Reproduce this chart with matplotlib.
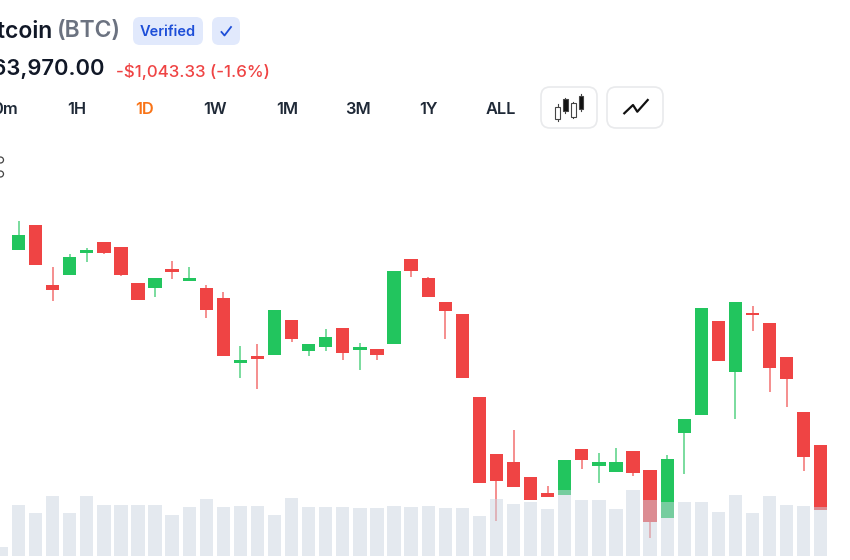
import numpy as np
from matplotlib import pyplot as plt
from matplotlib.patches import FancyBboxPatch, Rectangle, Circle

plt.rcParams['font.family'] = ['Inter', 'DejaVu Sans']

# daily candles (USD)
opens = [68130, 68535, 67575, 67725, 68077, 68263, 68173, 67597, 67517, 67831, 67629, 67517,
         67367, 66327, 66429, 66455, 67010, 66519, 66583, 66877, 66535, 66551, 66626, 67981,
         67677, 67298, 67106, 65778, 64866, 64733, 64503, 64237, 64215, 64951, 64679, 64578,
         64919, 64610, 63847, 65197, 65485, 66994, 66178, 67122, 66957, 66413, 65543, 65013]
closes = [68365, 67885, 67490, 68023, 68130, 68077, 67725, 67330, 67682, 67778, 67677, 67165,
          66434, 66375, 66381, 67165, 66701, 66626, 66743, 66477, 66578, 66450, 67794, 67799,
          67373, 67149, 66077, 64407, 64429, 64333, 64135, 64173, 64770, 64770, 64743, 64733,
          64562, 63778, 64781, 65426, 67202, 66349, 67293, 67095, 66237, 66061, 64823, 63970]
highs = [68594, 68535, 67858, 68066, 68167, 68263, 68173, 67597, 67682, 67954, 67863, 67575,
         67458, 66594, 66621, 67165, 67010, 66626, 66866, 66877, 66642, 66551, 67794, 67981,
         67698, 67298, 67106, 65778, 64866, 65250, 64503, 64354, 64770, 64951, 64877, 64962,
         64919, 64610, 64850, 65426, 67202, 66994, 67293, 67234, 66957, 66413, 65543, 65013]
lows = [68130, 67885, 67319, 67725, 67943, 68066, 67719, 67330, 67383, 67661, 67629, 67037,
        66434, 66087, 65901, 66455, 66658, 66434, 66514, 66365, 66210, 66370, 66626, 67703,
        67373, 66701, 66077, 64407, 63794, 64333, 64135, 64173, 64215, 64631, 64402, 64578,
        64514, 63527, 63847, 64541, 65485, 66349, 65426, 66834, 65858, 65613, 64589, 63970]
# volume in billions, first bar is the day before the first candle
volumes = [4.2, 25.2, 21.2, 29.8, 21.2, 29.6, 25.2, 25.2, 25.1, 25.1, 20.2, 24.1, 28.2, 24.4,
           24.6, 24.8, 20.2, 28.6, 24.2, 24.2, 24.2, 23.9, 23.9, 24.6, 24.4, 24.6, 23.9, 23.9,
           19.8, 28.4, 25.6, 26.6, 23.1, 32.8, 27.8, 27.8, 23.2, 32.6, 27.8, 26.6, 26.6, 26.6,
           21.8, 30.1, 21.4, 29.6, 25.1, 24.8, 24.4]
timeframes = ['0m', '1H', '1D', '1W', '1M', '3M', '1Y', 'ALL']

RED = '#EF4444'
GREEN = '#22C55E'
DARK = '#111827'

fig = plt.figure(figsize=(8.5, 5.6), dpi=100)
fig.patch.set_facecolor('white')

# candles
ax = fig.add_axes([0, 0, 1, 1], zorder=1)
ax.set_xlim(-1.084, 48.71)
ax.set_ylim(63170, 72130)
ax.axis('off')
days = np.arange(len(opens))
opens = np.array(opens)
closes = np.array(closes)
colors = [GREEN if c >= o else RED for o, c in zip(opens, closes)]
ax.vlines(days, lows, highs, colors=colors, linewidth=1.2, alpha=0.7)
ax.bar(days, closes - opens, bottom=opens, width=0.78, color=colors)

# volume is drawn over the candles, half transparent
ax_vol = fig.add_axes([0, 0, 1, 1], zorder=2)
ax_vol.set_xlim(-1.084, 48.71)
ax_vol.set_ylim(-2.25, 277.75)
ax_vol.axis('off')
ax_vol.bar(np.arange(len(volumes)) - 1, volumes, width=0.78, color='#CBD5E1', alpha=0.5)

# header, in pixels from the top left
ui = fig.add_axes([0, 0, 1, 1], zorder=3)
ui.set_xlim(0, 850)
ui.set_ylim(560, 0)
ui.axis('off')


def round_box(x, y, w, h, face, edge='none', r=7):
    ui.add_patch(FancyBboxPatch((x + r, y + r), w - 2 * r, h - 2 * r,
                                boxstyle=f'round,pad={r},rounding_size={r}',
                                facecolor=face, edgecolor=edge, linewidth=1.2))


ui.text(53, 31.5, 'Bitcoin', ha='right', va='center', fontsize=16.5, color=DARK, fontweight='semibold')
ui.text(121, 31.5, '(BTC)', ha='right', va='center', fontsize=16.5, color='#6B7280', fontweight='semibold')

round_box(133, 17, 70, 28, '#E1E9FC')
ui.text(168, 32, 'Verified', ha='center', va='center', fontsize=10.5, color='#1D4ED8', fontweight='semibold')
round_box(212, 17, 28, 28, '#E1E9FC')
ui.plot([221.5, 224.5, 231], [32, 35.5, 27], color='#1D4ED8', linewidth=1.3)

ui.text(105, 68, '$63,970.00', ha='right', va='center', fontsize=15.8, color=DARK, fontweight='semibold')
ui.text(116, 71, '-$1,043.33 (-1.6%)', ha='left', va='center', fontsize=12.2, color=RED, fontweight='medium')

tf_x = [18, 77, 145, 215, 287, 358, 428, 501]
for label, x in zip(timeframes, tf_x):
    ui.text(x, 109, label, ha='right' if label == '0m' else 'center', va='center', fontsize=11.8,
            color='#F97316' if label == '1D' else '#1F2937', fontweight='semibold')

# chart type buttons
round_box(541, 87, 56, 41, 'white', '#E9EAEC', r=9)
round_box(607, 87, 56, 41, 'white', '#E9EAEC', r=9)
icon = [(557.7, 106.7, 118.7, 104.3, 121.3, False), (565.3, 99, 111, 97.7, 112.7, True),
        (573.3, 103.3, 116.7, 101.7, 118.3, False), (581, 96, 109.3, 94.3, 111, True)]
for x, top, bottom, wick_top, wick_bottom, filled in icon:
    ui.plot([x, x], [wick_top, wick_bottom], color='#444444', linewidth=0.8)
    ui.add_patch(Rectangle((x - 2.4, top), 4.8, bottom - top, zorder=3, linewidth=0.8,
                           facecolor='#111111' if filled else 'white', edgecolor='#444444'))
ui.plot([624.3, 633, 637.3, 647.7], [113.3, 105, 111.7, 100], color='#111111', linewidth=1.6)

# settings icon at the very edge
for y in [160, 174]:
    ui.add_patch(Circle((0.5, y), 3, facecolor='white', edgecolor='#444444', linewidth=0.9))

fig.savefig('out.png', dpi=100)
